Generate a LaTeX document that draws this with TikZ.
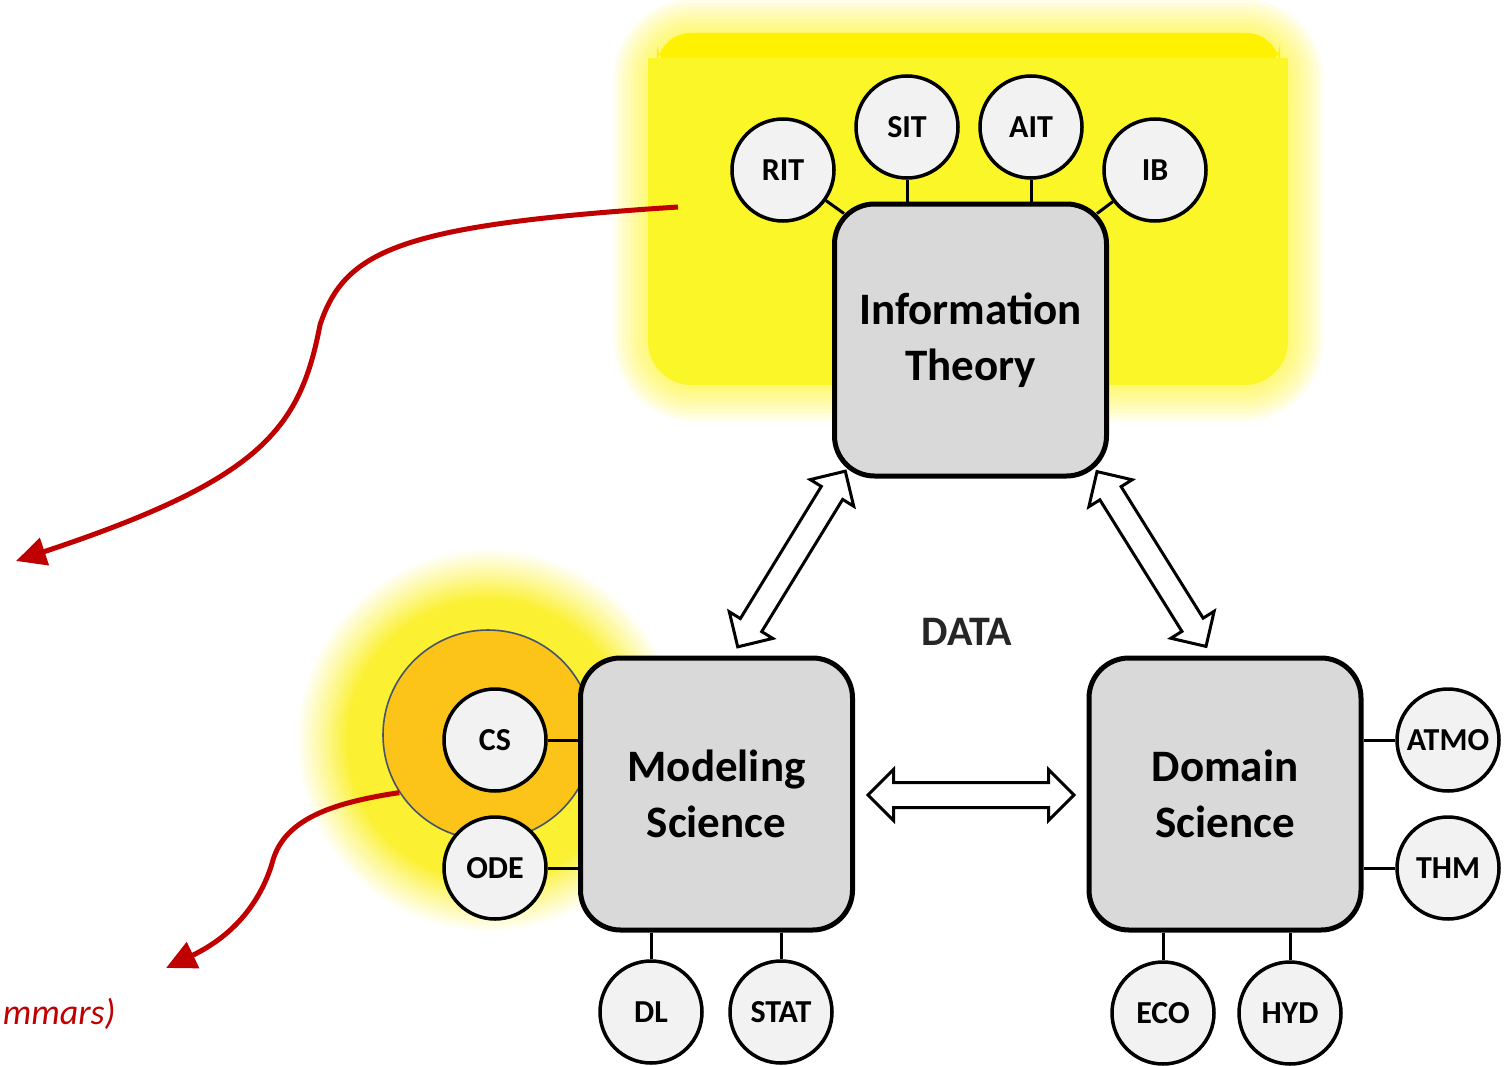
\documentclass[tikz,border=0pt]{standalone}
\usepackage{fontspec}
\setmainfont{Carlito}
\usetikzlibrary{shapes.arrows,arrows.meta,calc}
\definecolor{boxgray}{RGB}{217,217,217}
\definecolor{circgray}{RGB}{242,242,242}
\definecolor{darkred}{RGB}{192,0,0}
\definecolor{speckY}{RGB}{250,246,40}
\definecolor{glowY}{RGB}{251,240,50}
\definecolor{glowM}{RGB}{253,248,150}
\definecolor{orangeY}{RGB}{252,196,25}
\definecolor{slate}{RGB}{68,84,106}
\pgfdeclareradialshading{msglow}{\pgfpoint{0bp}{0bp}}{%
  color(0bp)=(glowY); color(17.5bp)=(glowY); color(20.5bp)=(glowM); color(24bp)=(white); color(50bp)=(white)}
\begin{document}
\begin{tikzpicture}[x=0.5pt,y=-0.5pt,
  bigbox/.style={draw=black, line width=2.5pt, fill=boxgray, rounded corners=20pt,
    minimum width=136pt, minimum height=136pt, align=center,
    font=\fontsize{22.5}{28}\selectfont\bfseries, inner sep=0pt},
  sub/.style={circle, draw=black, line width=1.75pt, fill=circgray, minimum size=51pt,
    inner sep=0pt, font=\fontsize{16}{18}\selectfont\bfseries},
  link/.style={line width=1.5pt, draw=black},
  hollow/.style={double arrow, draw=black, line width=1.5pt, fill=white, inner xsep=0pt,
    inner ysep=5.5pt, double arrow head extend=6.5pt, double arrow tip angle=90,
    sloped, midway, minimum height=103pt},
  redarrow/.style={draw=darkred, line width=2.5pt, -{Triangle[length=15pt,width=14pt]}},
]
\useasboundingbox (0,0) rectangle (1509,1065);

% glow around information theory region
\foreach \d in {36,32,28,24,20,16,12,8,4} {
  \pgfmathsetmacro\rr{22+\d*0.5}
  \fill[yellow, opacity=0.08, rounded corners=\rr pt] ({650-\d},{35-\d}) rectangle ({1287+\d},{385+\d});
}
\fill[yellow, rounded corners=17pt] (657,33) rectangle (1280,75);
\fill[speckY, rounded corners=22pt] (648,58) rectangle (1288,385);
\fill[speckY] (648,58) rectangle (1288,120);

% glow around the modeling region
\shade[shading=msglow] (488,740) circle[radius=200];
\node[circle, fill=orangeY, draw=slate, line width=0.8pt, minimum size=105pt, inner sep=0pt] (oc) at (488,735) {};

% main boxes
\node[bigbox] (it) at (970.5,340) {Information\\Theory};
\node[bigbox] (ms) at (716.5,794) {Modeling\\Science};
\node[bigbox] (ds) at (1225,794) {Domain\\Science};

% satellites
\node[sub] (rit) at (783,170) {RIT};
\node[sub] (sit) at (907,127) {SIT};
\node[sub] (ait) at (1031,127) {AIT};
\node[sub] (ib) at (1155,170) {IB};
\node[sub] (cs) at (495,740) {CS};
\node[sub] (ode) at (495,868) {ODE};
\node[sub] (dl) at (651,1012) {DL};
\node[sub] (stat) at (781,1012) {STAT};
\node[sub] (atmo) at (1448,740) {ATMO};
\node[sub] (thm) at (1448,868) {THM};
\node[sub] (eco) at (1163,1013) {ECO};
\node[sub] (hyd) at (1290,1013) {HYD};

% satellite links
\coordinate (itNW) at ($(it.north west)+(12,12)$);
\coordinate (itNE) at ($(it.north east)+(-12,12)$);
\draw[link] (rit) -- (itNW);
\draw[link] (ib) -- (itNE);
\draw[link] (sit) -- (sit |- it.north);
\draw[link] (ait) -- (ait |- it.north);
\draw[link] (cs) -- (cs -| ms.west);
\draw[link] (ode) -- (ode -| ms.west);
\draw[link] (dl) -- (dl |- ms.south);
\draw[link] (stat) -- (stat |- ms.south);
\draw[link] (atmo) -- (atmo -| ds.east);
\draw[link] (thm) -- (thm -| ds.east);
\draw[link] (eco) -- (eco |- ds.south);
\draw[link] (hyd) -- (hyd |- ds.south);

% hollow double arrows
\coordinate (a1) at (846,470);
\coordinate (a2) at (737,648);
\coordinate (b1) at (1096,470);
\coordinate (b2) at (1207,648);
\coordinate (c1) at (867,795);
\coordinate (c2) at (1075,795);
\path (a1) -- node[hollow] (arrL) {} (a2);
\path (b1) -- node[hollow] (arrR) {} (b2);
\path (c1) -- node[hollow] (arrH) {} (c2);

\node[font=\fontsize{21}{24}\selectfont\bfseries, text=black!85] (data) at (967,632) {DATA};

% red arrows
\coordinate (r1s) at (678,207);
\coordinate (r1e) at (16,561);
\coordinate (r2e) at (166,968);
\draw[redarrow] (r1s) .. controls (400,225) and (345,250) .. (320,325)
  .. controls (300,430) and (260,480) .. (r1e);
\draw[redarrow] (oc.213) .. controls (330,803) and (285,820) .. (273,860)
  .. controls (262,900) and (235,935) .. (r2e);

\node[anchor=east, inner sep=0pt, font=\fontsize{18}{20}\selectfont\itshape, text=darkred] (gram) at (116,1014) {mmars)};
\end{tikzpicture}
\end{document}
